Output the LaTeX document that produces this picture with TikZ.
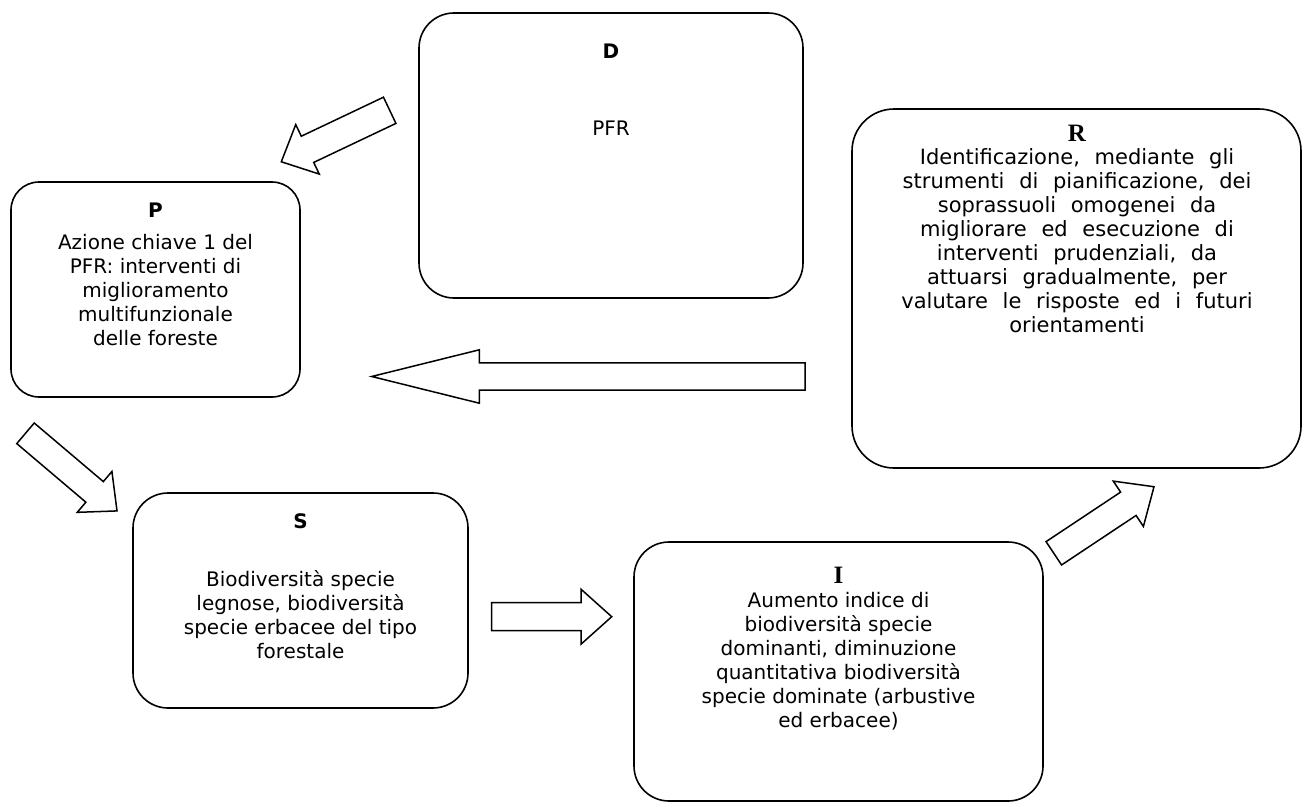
\documentclass[tikz,border=0pt]{standalone}
\usepackage{fontspec}
\setmainfont{DejaVu Sans}
\newfontfamily\headserif{Liberation Serif}
\newfontfamily\widesans{DejaVu Sans}[WordSpace=2.2]
\tikzset{
  box/.style={draw, line width=1.6pt, inner sep=0pt},
  txt/.style={font=\fontsize{20}{24}\selectfont, align=center, inner sep=0pt},
  widetxt/.style={font=\fontsize{21}{24}\selectfont\widesans, align=center, inner sep=0pt},
  hdsans/.style={font=\fontsize{20}{24}\selectfont\bfseries, inner sep=0pt},
  hdserif/.style={font=\fontsize{25}{30}\selectfont\headserif\bfseries, inner sep=0pt},
  arrowline/.style={draw, line width=1.5pt, line join=miter, fill=white},
  pics/blockarrow/.style args={#1/#2/#3/#4}{code={
    \path[arrowline] (0,#2) -- ({#1-#4},#2) -- ({#1-#4},#3) -- (#1,0)
      -- ({#1-#4},-#3) -- ({#1-#4},-#2) -- (0,-#2) -- cycle;}}
}
\begin{document}
\begin{tikzpicture}[x=1pt,y=-1pt]
  \useasboundingbox (0,0) rectangle (1303,803);

  % boxes
  \node[box, rounded corners=35pt, minimum width=384, minimum height=285] (D) at (611,155.5) {};
  \node[box, rounded corners=28pt, minimum width=289, minimum height=215] (P) at (155.5,289.5) {};
  \node[box, rounded corners=42pt, minimum width=449, minimum height=359] (R) at (1076.5,288.5) {};
  \node[box, rounded corners=35pt, minimum width=335, minimum height=215] (S) at (300.5,600.5) {};
  \node[box, rounded corners=35pt, minimum width=409, minimum height=259] (I) at (838.5,671.5) {};

  % box contents (multi-line texts are placed by the baseline of their last line)
  \node[hdsans, anchor=base] (Dh) at (611,58) {D};
  \node[txt, anchor=base] (Dt) at (611,135) {PFR};

  \node[hdsans, anchor=base] (Ph) at (155.5,217) {P};
  \node[txt, anchor=base] (Pt) at (155.5,345) {Azione chiave 1 del\\PFR: interventi di\\miglioramento\\multifunzionale\\delle foreste};

  \node[hdserif, anchor=base] (Rh) at (1077,141) {R};
  \node[widetxt, anchor=base] (Rt) at (1077,332) {Identificazione, mediante gli\\strumenti di pianificazione, dei\\soprassuoli omogenei da\\migliorare ed esecuzione di\\interventi prudenziali, da\\attuarsi gradualmente, per\\valutare le risposte ed i futuri\\orientamenti};

  \node[hdsans, anchor=base] (Sh) at (300.5,528) {S};
  \node[txt, anchor=base] (St) at (300.5,658) {Biodiversità specie\\legnose, biodiversità\\specie erbacee del tipo\\forestale};

  \node[hdserif, anchor=base] (Ih) at (838.5,583) {I};
  \node[txt, anchor=base] (It) at (838.5,727) {Aumento indice di\\biodiversità specie\\dominanti, diminuzione\\quantitativa biodiversità\\specie dominate (arbustive\\ed erbacee)};

  % block arrows between the boxes
  \coordinate (aDP) at (389.7,110.3);
  \coordinate (aRP) at (805,376.5);
  \coordinate (aPS) at (25.5,433.3);
  \coordinate (aSI) at (491.7,616.7);
  \coordinate (aIR) at (1053.8,553.3);
  \pic[rotate=205.4] at (aDP) {blockarrow={120/14.5/27.4/29}};
  \pic[rotate=180] at (aRP) {blockarrow={433.3/13.7/26.7/107.6}};
  \pic[rotate=-40.3] at (aPS) {blockarrow={120/13.5/26.8/29.4}};
  \pic at (aSI) {blockarrow={120/14/27.5/30.7}};
  \pic[rotate=33.6] at (aIR) {blockarrow={120.3/14/27.2/30.8}};
\end{tikzpicture}
\end{document}
